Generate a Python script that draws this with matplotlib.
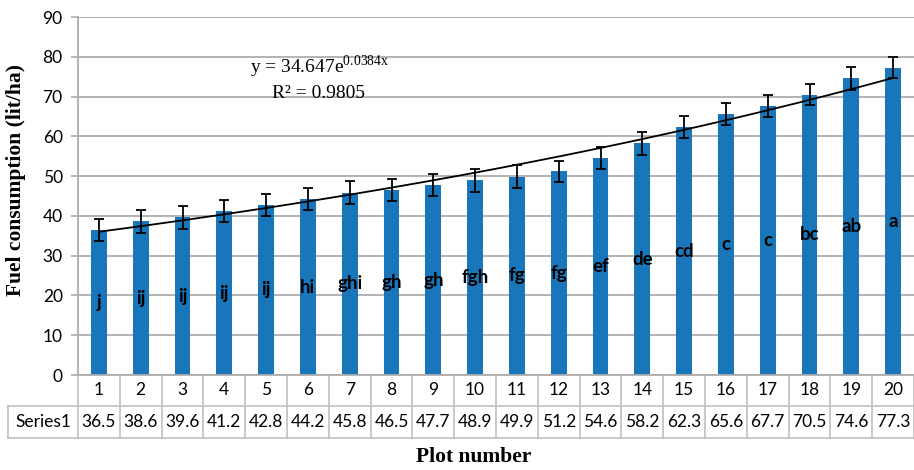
import matplotlib
matplotlib.use("Agg")
import matplotlib.pyplot as plt
import matplotlib.transforms as mtransforms
import numpy as np

# ---- data ----
plots = list(range(1, 21))
fuel = [36.5, 38.6, 39.6, 41.2, 42.8, 44.2, 45.8, 46.5, 47.7, 48.9,
        49.9, 51.2, 54.6, 58.2, 62.3, 65.6, 67.7, 70.5, 74.6, 77.3]
errors = [2.8, 2.8, 2.8, 2.8, 2.8, 2.8, 2.9, 2.8, 2.8, 2.8,
          2.8, 2.7, 2.7, 2.8, 2.8, 2.8, 2.8, 2.7, 2.9, 2.7]
letters = ["j", "ij", "ij", "ij", "ij", "hi", "ghi", "gh", "gh", "fgh",
           "fg", "fg", "ef", "de", "cd", "c", "c", "bc", "ab", "a"]
series_name = "Series1"
trend_a, trend_b = 34.647, 0.0384
r2_text = "R² = 0.9805"
yticks = list(range(0, 91, 10))

BAR = "#1A76BA"
GRID = "#ADADAD"
TBL = "#BFBFBF"
SANS = ["Lato", "DejaVu Sans"]
SERIF = ["Liberation Serif", "DejaVu Serif"]

plt.rcParams["mathtext.fontset"] = "custom"
plt.rcParams["mathtext.rm"] = "Liberation Serif"

fig = plt.figure(figsize=(9.14, 4.70), dpi=100)
ax = fig.add_axes([78 / 914, 1 - 375 / 470, 836 / 914, 358 / 470])

x = np.array(plots)
ax.bar(x, fuel, width=0.38, color=BAR, zorder=2)
ax.errorbar(x, fuel, yerr=errors, fmt="none", ecolor="black", elinewidth=1.3,
            capsize=3.4, capthick=1.3, zorder=4)

xt = np.linspace(plots[0], plots[-1], 200)
ax.plot(xt, trend_a * np.exp(trend_b * xt), color="black", lw=1.3, zorder=3)

for xi, v, lab in zip(x, fuel, letters):
    ax.text(xi, v / 2, lab, ha="center", va="center", family=SANS,
            fontweight="bold", fontsize=13.5, color="black", zorder=5)

fig.text(320 / 914, 1 - 67 / 470,
         "y = 34.647e$^{\\mathregular{0.0384x}}$", ha="center", va="center",
         family=SERIF, fontsize=14)
fig.text(318 / 914, 1 - 93 / 470, r2_text, ha="center", va="center",
         family=SERIF, fontsize=14)

ax.set_xlim(0.5, 20.5)
ax.set_ylim(0, 90)
ax.set_yticks(yticks)
ax.set_yticklabels([str(t) for t in yticks], family=SANS, fontsize=12.5)
ax.tick_params(axis="y", length=5, color=GRID, width=1.2, pad=6)
ax.set_xticks([])
ax.yaxis.grid(True, color=GRID, lw=1.3, zorder=0)
ax.set_axisbelow(True)
for s in ["top", "right"]:
    ax.spines[s].set_visible(False)
ax.spines["left"].set_color(GRID)
ax.spines["left"].set_linewidth(1.3)
ax.spines["bottom"].set_color(GRID)
ax.spines["bottom"].set_linewidth(1.3)

fig.text(16 / 914, 1 - 180 / 470, "Fuel consumption (lit/ha)", rotation=90,
         ha="center", va="center", family=SERIF, fontweight="bold",
         fontsize=15.5)

# ---- data table ----
trans = mtransforms.blended_transform_factory(ax.transData, ax.transAxes)
r1 = -30.7 / 358
r2 = -63.0 / 358
left = 0.5 - 70 / 41.8
kw = dict(color=TBL, lw=1.2, transform=trans, clip_on=False)
bounds = np.arange(0.5, len(plots) + 1, 1.0)
for b in bounds:
    ax.plot([b, b], [0, r2], **kw)
ax.plot([left, left], [r1, r2], **kw)
ax.plot([left, bounds[-1]], [r1, r1], **kw)
ax.plot([left, bounds[-1]], [r2, r2], **kw)
for xi, v in zip(x, fuel):
    ax.text(xi, r1 / 2, str(xi), ha="center", va="center", transform=trans,
            family=SANS, fontsize=12.5)
    ax.text(xi, (r1 + r2) / 2, f"{v:.1f}", ha="center", va="center",
            transform=trans, family=SANS, fontsize=12.5)
ax.text((left + 0.5) / 2, (r1 + r2) / 2, series_name, ha="center",
        va="center", transform=trans, family=SANS, fontsize=12.5)

fig.text(474 / 914, 1 - 457 / 470, "Plot number", ha="center", va="center",
         family=SERIF, fontweight="bold", fontsize=15.5)

fig.savefig("out.png", dpi=100)
